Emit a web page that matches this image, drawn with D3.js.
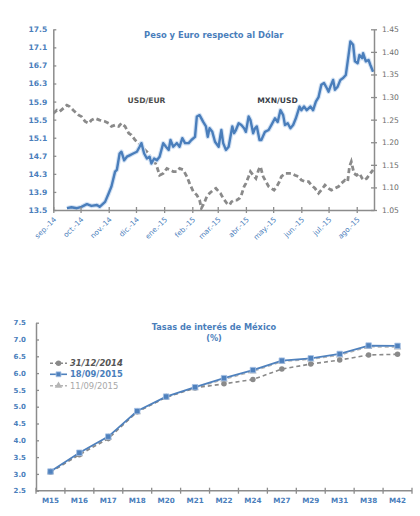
<!DOCTYPE html>
<html><head><meta charset="utf-8">
<script src="https://cdn.jsdelivr.net/npm/d3@7/dist/d3.min.js"></script>
<style>body{margin:0;background:#fff} svg{display:block;font-family:"DejaVu Sans",sans-serif}</style>
</head><body><svg id="c" width="420" height="516"></svg>
<script>
// ---------- DATA: Peso y Euro respecto al Dólar ----------
const mxnDates = ["2014-09-16","2014-09-21","2014-09-27","2014-10-02","2014-10-08","2014-10-13","2014-10-19","2014-10-22","2014-10-28","2014-11-01","2014-11-04","2014-11-08","2014-11-10","2014-11-13","2014-11-15","2014-11-18","2014-11-21","2014-11-24","2014-11-28","2014-12-02","2014-12-05","2014-12-07","2014-12-10","2014-12-13","2014-12-16","2014-12-18","2014-12-21","2014-12-24","2014-12-27","2014-12-31","2015-01-03","2015-01-06","2015-01-08","2015-01-11","2015-01-15","2015-01-18","2015-01-21","2015-01-24","2015-01-28","2015-01-31","2015-02-04","2015-02-06","2015-02-09","2015-02-13","2015-02-16","2015-02-18","2015-02-20","2015-02-23","2015-02-26","2015-03-02","2015-03-04","2015-03-05","2015-03-07","2015-03-10","2015-03-13","2015-03-15","2015-03-17","2015-03-19","2015-03-21","2015-03-24","2015-03-27","2015-03-30","2015-04-01","2015-04-04","2015-04-06","2015-04-09","2015-04-11","2015-04-13","2015-04-16","2015-04-18","2015-04-22","2015-04-26","2015-04-29","2015-05-03","2015-05-06","2015-05-09","2015-05-12","2015-05-14","2015-05-17","2015-05-20","2015-05-23","2015-05-26","2015-05-30","2015-06-01","2015-06-04","2015-06-07","2015-06-11","2015-06-14","2015-06-17","2015-06-20","2015-06-23","2015-06-26","2015-06-29","2015-07-01","2015-07-03","2015-07-06","2015-07-08","2015-07-11","2015-07-14","2015-07-17","2015-07-20","2015-07-23","2015-07-25","2015-07-28","2015-07-30","2015-08-02","2015-08-04","2015-08-07","2015-08-08","2015-08-11","2015-08-14","2015-08-16","2015-08-19"];
const mxnValues = [13.54,13.56,13.54,13.57,13.63,13.59,13.61,13.57,13.68,13.87,14.02,14.35,14.39,14.75,14.79,14.60,14.68,14.71,14.75,14.79,14.90,14.98,14.75,14.64,14.68,14.53,14.64,14.60,14.68,14.98,14.90,14.83,15.05,14.90,14.98,14.90,15.09,14.98,14.98,15.05,15.12,15.57,15.60,15.45,15.35,15.12,15.31,15.23,15.01,14.90,15.16,15.27,14.98,14.83,14.90,15.12,15.35,15.20,15.27,15.42,15.38,15.31,15.23,15.57,15.49,15.20,15.31,15.35,15.05,15.05,15.23,15.27,15.38,15.53,15.45,15.71,15.60,15.38,15.42,15.31,15.38,15.53,15.79,15.71,15.79,15.71,15.79,15.71,15.90,16.00,16.27,16.31,16.20,16.12,16.23,16.38,16.16,16.23,16.38,16.42,16.49,16.93,17.23,17.16,16.79,16.75,16.93,16.86,16.97,16.79,16.82,16.71,16.56];
const eurDates = ["2014-09-01","2014-09-05","2014-09-08","2014-09-12","2014-09-16","2014-09-19","2014-09-23","2014-09-29","2014-10-02","2014-10-06","2014-10-10","2014-10-13","2014-10-17","2014-10-22","2014-10-28","2014-11-01","2014-11-04","2014-11-08","2014-11-12","2014-11-15","2014-11-19","2014-11-23","2014-11-26","2014-11-30","2014-12-04","2014-12-07","2014-12-11","2014-12-15","2014-12-18","2014-12-21","2014-12-24","2014-12-27","2014-12-31","2015-01-04","2015-01-07","2015-01-11","2015-01-15","2015-01-18","2015-01-22","2015-01-26","2015-01-29","2015-02-02","2015-02-06","2015-02-09","2015-02-11","2015-02-14","2015-02-17","2015-02-20","2015-02-24","2015-02-27","2015-03-02","2015-03-04","2015-03-07","2015-03-11","2015-03-14","2015-03-16","2015-03-19","2015-03-22","2015-03-25","2015-03-27","2015-03-30","2015-04-01","2015-04-04","2015-04-06","2015-04-09","2015-04-12","2015-04-15","2015-04-17","2015-04-20","2015-04-23","2015-04-26","2015-04-29","2015-05-02","2015-05-05","2015-05-08","2015-05-10","2015-05-14","2015-05-18","2015-05-21","2015-05-25","2015-05-29","2015-06-01","2015-06-05","2015-06-09","2015-06-12","2015-06-16","2015-06-20","2015-06-23","2015-06-27","2015-07-01","2015-07-04","2015-07-08","2015-07-12","2015-07-15","2015-07-19","2015-07-22","2015-07-24","2015-07-26","2015-07-29","2015-08-01","2015-08-04","2015-08-07","2015-08-09","2015-08-12","2015-08-16","2015-08-19"];
const eurValues = [1.264,1.271,1.268,1.275,1.282,1.279,1.271,1.260,1.257,1.246,1.242,1.249,1.253,1.249,1.246,1.242,1.235,1.238,1.235,1.242,1.235,1.220,1.216,1.205,1.198,1.190,1.183,1.175,1.161,1.161,1.146,1.127,1.131,1.142,1.139,1.135,1.135,1.142,1.139,1.124,1.109,1.091,1.083,1.072,1.054,1.065,1.080,1.087,1.094,1.098,1.091,1.087,1.076,1.065,1.061,1.068,1.072,1.072,1.076,1.083,1.102,1.109,1.124,1.135,1.127,1.120,1.139,1.146,1.124,1.113,1.102,1.098,1.094,1.102,1.113,1.124,1.131,1.131,1.131,1.127,1.124,1.116,1.113,1.113,1.105,1.098,1.087,1.094,1.105,1.098,1.094,1.098,1.102,1.109,1.116,1.113,1.146,1.157,1.131,1.127,1.131,1.120,1.116,1.120,1.131,1.139];
const mxnTicks = [13.5,13.9,14.3,14.7,15.1,15.5,15.9,16.3,16.7,17.1,17.5];
const eurTicks = [1.05,1.10,1.15,1.20,1.25,1.30,1.35,1.40,1.45];
const monthLabels = ["sep.-14","oct.-14","nov.-14","dic.-14","ene.-15","feb.-15","mar.-15","abr.-15","may.-15","jun.-15","jul.-15","ago.-15"];

// ---------- DATA: Tasas de interés de México (%) ----------
const tenors = ["M15","M16","M17","M18","M20","M21","M22","M24","M27","M29","M31","M38","M42"];
const rates311214 = [3.05,3.57,4.05,4.85,5.28,5.56,5.68,5.81,6.12,6.27,6.39,6.54,6.56];
const rates180915 = [3.07,3.63,4.11,4.87,5.30,5.58,5.85,6.09,6.37,6.44,6.57,6.82,6.81];
const rates110915 = [3.05,3.59,4.08,4.84,5.28,5.55,5.81,6.05,6.34,6.41,6.53,6.78,6.77];
const rateTicks = [2.5,3.0,3.5,4.0,4.5,5.0,5.5,6.0,6.5,7.0,7.5];
const legendNames = ["31/12/2014","18/09/2015","11/09/2015"];

// ---------- STYLE ----------
const BLUE = "#4a7ebb", AXIS = "#8c8c8c", GRAY = "#8a8a8a";
const svg = d3.select("#c");
const parse = d3.utcParse("%Y-%m-%d");

// ===== Top chart =====
const T = {l:53.3, r:374, t:29.3, b:210};
const x = d3.scaleUtc().domain([parse("2014-09-01"), parse("2015-08-20")]).range([T.l, T.r]);
const yL = d3.scaleLinear().domain([13.5,17.5]).range([T.b, T.t]);
const yR = d3.scaleLinear().domain([1.05,1.45]).range([T.b, T.t]);

svg.append("clipPath").attr("id","clipTop").append("rect")
  .attr("x",T.l).attr("y",T.t-5).attr("width",T.r-T.l+2).attr("height",T.b-T.t+5);

const mxn = mxnDates.map((d,i)=>({d:parse(d), v:mxnValues[i]}));
const eur = eurDates.map((d,i)=>({d:parse(d), v:eurValues[i]}));

const gTop = svg.append("g");
const gLines = gTop.append("g").attr("clip-path","url(#clipTop)");
gLines.append("path").datum(eur)
  .attr("d", d3.line().x(d=>x(d.d)).y(d=>yR(d.v)))
  .attr("fill","none").attr("stroke",GRAY).attr("stroke-width",2.8)
  .attr("stroke-dasharray","5,3");
const lineL = d3.line().x(d=>x(d.d)).y(d=>yL(d.v));
gLines.append("path").datum(mxn).attr("d",lineL)
  .attr("fill","none").attr("stroke","#d3e2f4").attr("stroke-width",4.6).attr("stroke-linejoin","round");
gLines.append("path").datum(mxn).attr("d",lineL)
  .attr("fill","none").attr("stroke",BLUE).attr("stroke-width",2.4).attr("stroke-linejoin","round");

function styleAxis(g){
  g.selectAll(".domain").attr("stroke",AXIS).attr("stroke-width",1.5);
  g.selectAll(".tick line").attr("stroke",AXIS).attr("stroke-width",1.3);
}
// left axis
const axL = gTop.append("g").attr("transform",`translate(${T.l},0)`)
  .call(d3.axisLeft(yL).tickValues(mxnTicks).tickFormat(d3.format(".1f")).tickSize(3).tickSizeOuter(0));
axL.selectAll(".tick line").attr("x2",3);
axL.selectAll("text").attr("x",-6).attr("fill",BLUE).attr("font-size",7.6).attr("font-weight","bold")
  .attr("font-family","DejaVu Sans");
styleAxis(axL);
// right axis
const axR = gTop.append("g").attr("transform",`translate(${T.r},0)`)
  .call(d3.axisRight(yR).tickValues(eurTicks).tickFormat(d3.format(".2f")).tickSize(3).tickSizeOuter(0));
axR.selectAll(".tick line").attr("x1",-3);
axR.selectAll("text").attr("x",8).attr("fill","#6d6d6d").attr("font-size",7.6)
  .attr("font-family","DejaVu Sans");
styleAxis(axR);
// bottom axis
const months = d3.utcMonth.range(parse("2014-09-01"), parse("2015-08-02"));
const axB = gTop.append("g").attr("transform",`translate(0,${T.b})`)
  .call(d3.axisBottom(x).tickValues(months).tickFormat((d,i)=>monthLabels[i]).tickSize(3).tickSizeOuter(0));
axB.selectAll(".tick line").attr("y1",-3);
axB.selectAll("text").attr("fill",BLUE).attr("font-size",7.2).attr("font-family","DejaVu Sans")
  .attr("text-anchor","end").attr("dy",0).attr("y",0)
  .attr("transform","translate(3,10) rotate(-45)");
styleAxis(axB);

gTop.append("text").attr("x",213.7).attr("y",38.3).attr("text-anchor","middle")
  .attr("fill",BLUE).attr("font-weight","bold").attr("font-size",8.4).text("Peso y Euro respecto al Dólar");
gTop.append("text").attr("x",146.5).attr("y",102.5).attr("text-anchor","middle")
  .attr("fill","#4d4d4d").attr("font-weight","bold").attr("font-size",7.6).text("USD/EUR");
gTop.append("text").attr("x",277.5).attr("y",103).attr("text-anchor","middle")
  .attr("fill","#3a3f4a").attr("font-weight","bold").attr("font-size",7.6).text("MXN/USD");

// ===== Bottom chart =====
const B = {l:36, r:412, t:322.7, b:490.7};
const xb = d3.scaleBand().domain(tenors).range([B.l, B.r]);
const yb = d3.scaleLinear().domain([2.5,7.5]).range([B.b, B.t]);
const gBot = svg.append("g");

const axBL = gBot.append("g").attr("transform",`translate(${B.l},0)`)
  .call(d3.axisLeft(yb).tickValues(rateTicks).tickFormat(d3.format(".1f")).tickSize(3).tickSizeOuter(0));
axBL.selectAll(".tick line").attr("x2",3);
axBL.selectAll("text").attr("x",-10).attr("fill",BLUE).attr("font-size",7).attr("font-weight","bold")
  .attr("font-family","DejaVu Sans");
styleAxis(axBL);

const bounds = tenors.map(t=>xb(t)).concat([B.r]);
const axBB = gBot.append("g").attr("transform",`translate(0,${B.b})`);
axBB.append("line").attr("x1",B.l).attr("x2",B.r).attr("stroke",AXIS).attr("stroke-width",1.5);
axBB.selectAll("line.tk").data(bounds).join("line").attr("class","tk")
  .attr("x1",d=>d).attr("x2",d=>d).attr("y1",-3).attr("y2",3).attr("stroke",AXIS).attr("stroke-width",1.3);
axBB.selectAll("text").data(tenors).join("text")
  .attr("x",d=>xb(d)+xb.bandwidth()/2).attr("y",12.5).attr("text-anchor","middle")
  .attr("fill",BLUE).attr("font-size",7.2).attr("font-weight","bold").text(d=>d);

const cx = d=>xb(d)+xb.bandwidth()/2;
const series = [
  {vals:rates110915, stroke:"#b5b5b5", w:1.3, dash:"4,3", marker:"triangle", fill:"#b5b5b5"},
  {vals:rates311214, stroke:"#8a8a8a", w:1.6, dash:"4,3", marker:"circle", fill:"#8a8a8a"},
  {vals:rates180915, stroke:"#4f81bd", w:1.8, dash:null, marker:"square", fill:"#4f81bd"}
];
const lineB = d3.line().x((d,i)=>cx(tenors[i])).y(d=>yb(d));
series.forEach(s=>{
  gBot.append("path").datum(s.vals).attr("d",lineB).attr("fill","none")
    .attr("stroke",s.stroke).attr("stroke-width",s.w).attr("stroke-dasharray",s.dash);
  const sym = s.marker==="square"?d3.symbolSquare:(s.marker==="circle"?d3.symbolCircle:d3.symbolTriangle);
  gBot.selectAll(null).data(s.vals).join("path")
    .attr("transform",(d,i)=>`translate(${cx(tenors[i])},${yb(d)})`)
    .attr("d",d3.symbol().type(sym).size(s.marker==="square"?30:24))
    .attr("fill",s.fill).attr("stroke",s.marker==="square"?"#a8c3e6":"none").attr("stroke-width",0.8);
});

gBot.append("text").attr("x",214).attr("y",330).attr("text-anchor","middle")
  .attr("fill",BLUE).attr("font-weight","bold").attr("font-size",8.2).text("Tasas de interés de México");
gBot.append("text").attr("x",214).attr("y",340.5).attr("text-anchor","middle")
  .attr("fill",BLUE).attr("font-weight","bold").attr("font-size",8.2).text("(%)");

// legend
const legY = [363.3, 374.3, 385.7];
const legStyle = [
  {stroke:"#8a8a8a", dash:"3,2", sym:d3.symbolCircle, fill:"#8a8a8a", tc:"#555", fw:"bold", fs:"italic", so:"none"},
  {stroke:"#4f81bd", dash:null, sym:d3.symbolSquare, fill:"#4f81bd", tc:BLUE, fw:"bold", fs:"normal", so:"#a8c3e6"},
  {stroke:"#b5b5b5", dash:"3,2", sym:d3.symbolTriangle, fill:"#b5b5b5", tc:"#a8a8a8", fw:"normal", fs:"normal", so:"none"}
];
const leg = gBot.append("g");
legendNames.forEach((n,i)=>{
  const st = legStyle[i];
  leg.append("line").attr("x1",50).attr("x2",67).attr("y1",legY[i]).attr("y2",legY[i])
    .attr("stroke",st.stroke).attr("stroke-width",1.6).attr("stroke-dasharray",st.dash);
  leg.append("path").attr("transform",`translate(58.5,${legY[i]})`)
    .attr("d",d3.symbol().type(st.sym).size(24)).attr("fill",st.fill).attr("stroke",st.so).attr("stroke-width",0.8);
  leg.append("text").attr("x",70).attr("y",legY[i]+3).attr("fill",st.tc)
    .attr("font-weight",st.fw).attr("font-style",st.fs).attr("font-size",8.4).text(n);
});
</script></body></html>
